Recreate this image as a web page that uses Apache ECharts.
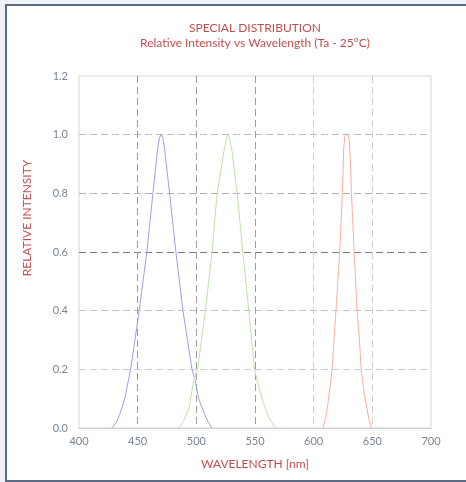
<!DOCTYPE html>
<html>
<head>
<meta charset="utf-8">
<script src="https://cdn.jsdelivr.net/npm/echarts@6/dist/echarts.min.js"></script>
<style>
  html, body { margin: 0; padding: 0; width: 466px; height: 482px; overflow: hidden; background: #eef1f5; }
  #frame { position: absolute; left: 5px; top: 4px; width: 480px; height: 474px; border: 2px solid #5b6a84; background: #ffffff; }
  #chart { position: absolute; left: 0; top: 0; width: 466px; height: 482px; }
</style>
</head>
<body>
<div id="frame"></div>
<div id="chart"></div>
<script>
// Wavelength (nm) and relative intensity for each LED curve
const blueWl  = [428, 432, 435, 439, 444, 451.3, 457.8, 463, 467, 468.6, 470, 471.4, 473, 477.2, 482.6, 488.6, 496.3, 499.1, 502, 506.8, 510, 513.4];
const blueVal = [0, 0.02, 0.05, 0.1, 0.2, 0.4, 0.6, 0.8, 0.95, 0.99, 1.0, 0.99, 0.95, 0.8, 0.6, 0.4, 0.2, 0.16, 0.1, 0.05, 0.02, 0];

const greenWl  = [485, 490, 494, 497.6, 501.1, 507.7, 513.4, 517.7, 523.8, 525.8, 527, 528.2, 530.2, 534.8, 539.6, 544.7, 549.6, 552, 556, 560.4, 564, 567.5];
const greenVal = [0, 0.03, 0.07, 0.16, 0.2, 0.4, 0.6, 0.8, 0.95, 0.99, 1.0, 0.99, 0.95, 0.8, 0.6, 0.4, 0.2, 0.16, 0.1, 0.05, 0.02, 0];

const redWl  = [608, 610, 611.7, 614, 615.7, 617.3, 619, 622.2, 624.5, 625.6, 626.4, 627.2, 629.4, 630.3, 631.2, 632.2, 634.5, 637, 639, 640.5, 643, 645.3, 647, 649.3];
const redVal = [0, 0.03, 0.07, 0.14, 0.2, 0.3, 0.4, 0.6, 0.8, 0.95, 0.99, 1.0, 1.0, 0.98, 0.92, 0.8, 0.6, 0.4, 0.3, 0.2, 0.12, 0.07, 0.03, 0];

const xTicks = [400, 450, 500, 550, 600, 650, 700];
const yTicks = [0.0, 0.2, 0.4, 0.6, 0.8, 1.0, 1.2];

const titleText = 'SPECIAL DISTRIBUTION';
const subtitleText = 'Relative Intensity vs Wavelength (Ta - 25°C)';
const xName = 'WAVELENGTH [nm]';
const yName = 'RELATIVE INTENSITY';

function zip(a, b) { return a.map((v, i) => [v, b[i]]); }

const FONT = 'Lato, "Noto Sans", sans-serif';
const RED = '#c0504f';
const LABEL = '#7a8498';

const chart = echarts.init(document.getElementById('chart'), null, { renderer: 'canvas' });
chart.setOption({
  animation: false,
  backgroundColor: 'transparent',
  title: [
    { text: titleText, left: 250, top: 17, textAlign: 'center',
      textStyle: { color: RED, fontSize: 12, fontWeight: 'normal', fontFamily: FONT } },
    { text: subtitleText, left: 250, top: 32, textAlign: 'center',
      textStyle: { color: RED, fontSize: 12, fontWeight: 'normal', fontFamily: FONT } }
  ],
  graphic: [
    { type: 'text', x: 27, y: 218, rotation: Math.PI / 2,
      style: { text: yName, fill: RED, font: '12px ' + FONT, align: 'center', verticalAlign: 'middle' } }
  ],
  grid: { left: 79, right: 35, top: 76, bottom: 54, show: true, borderColor: '#d6d6d6', borderWidth: 1, backgroundColor: 'transparent' },
  xAxis: {
    type: 'value', min: xTicks[0], max: xTicks[xTicks.length - 1], interval: 50,
    name: xName, nameLocation: 'middle', nameGap: 30,
    nameTextStyle: { color: RED, fontSize: 12, fontFamily: FONT },
    axisLine: { show: true, lineStyle: { color: '#d0d0d0', width: 1 } },
    axisTick: { show: false },
    axisLabel: { color: LABEL, fontSize: 11, fontFamily: FONT, margin: 8 },
    splitLine: { show: true, showMinLine: false, showMaxLine: false,
      lineStyle: { type: [7, 4], width: 1, color: ['#9c9c9c', '#9c9c9c', '#9c9c9c', '#cfcfcf', '#cfcfcf'] } }
  },
  yAxis: {
    type: 'value', min: yTicks[0], max: yTicks[yTicks.length - 1], interval: 0.2,
    axisLine: { show: false },
    axisTick: { show: false },
    axisLabel: { color: LABEL, fontSize: 11, fontFamily: FONT, margin: 11, padding: [0, 0, 5, 0], formatter: v => v.toFixed(1) },
    splitLine: { show: true, showMinLine: false, showMaxLine: false,
      lineStyle: { type: [7, 4], width: 1, color: ['#cdcdcd', '#c4c4c4', '#7c7c7c', '#b0b0b0', '#bcbcbc'] } }
  },
  series: [
    { name: 'Blue', type: 'line', data: zip(blueWl, blueVal), symbol: 'none', smooth: false,
      lineStyle: { color: '#9ca0e2', width: 1 } },
    { name: 'Green', type: 'line', data: zip(greenWl, greenVal), symbol: 'none', smooth: false,
      lineStyle: { color: '#bfe1a8', width: 1 } },
    { name: 'Red', type: 'line', data: zip(redWl, redVal), symbol: 'none', smooth: false,
      lineStyle: { color: '#f6b0a2', width: 1 } }
  ]
});
</script>
</body>
</html>
